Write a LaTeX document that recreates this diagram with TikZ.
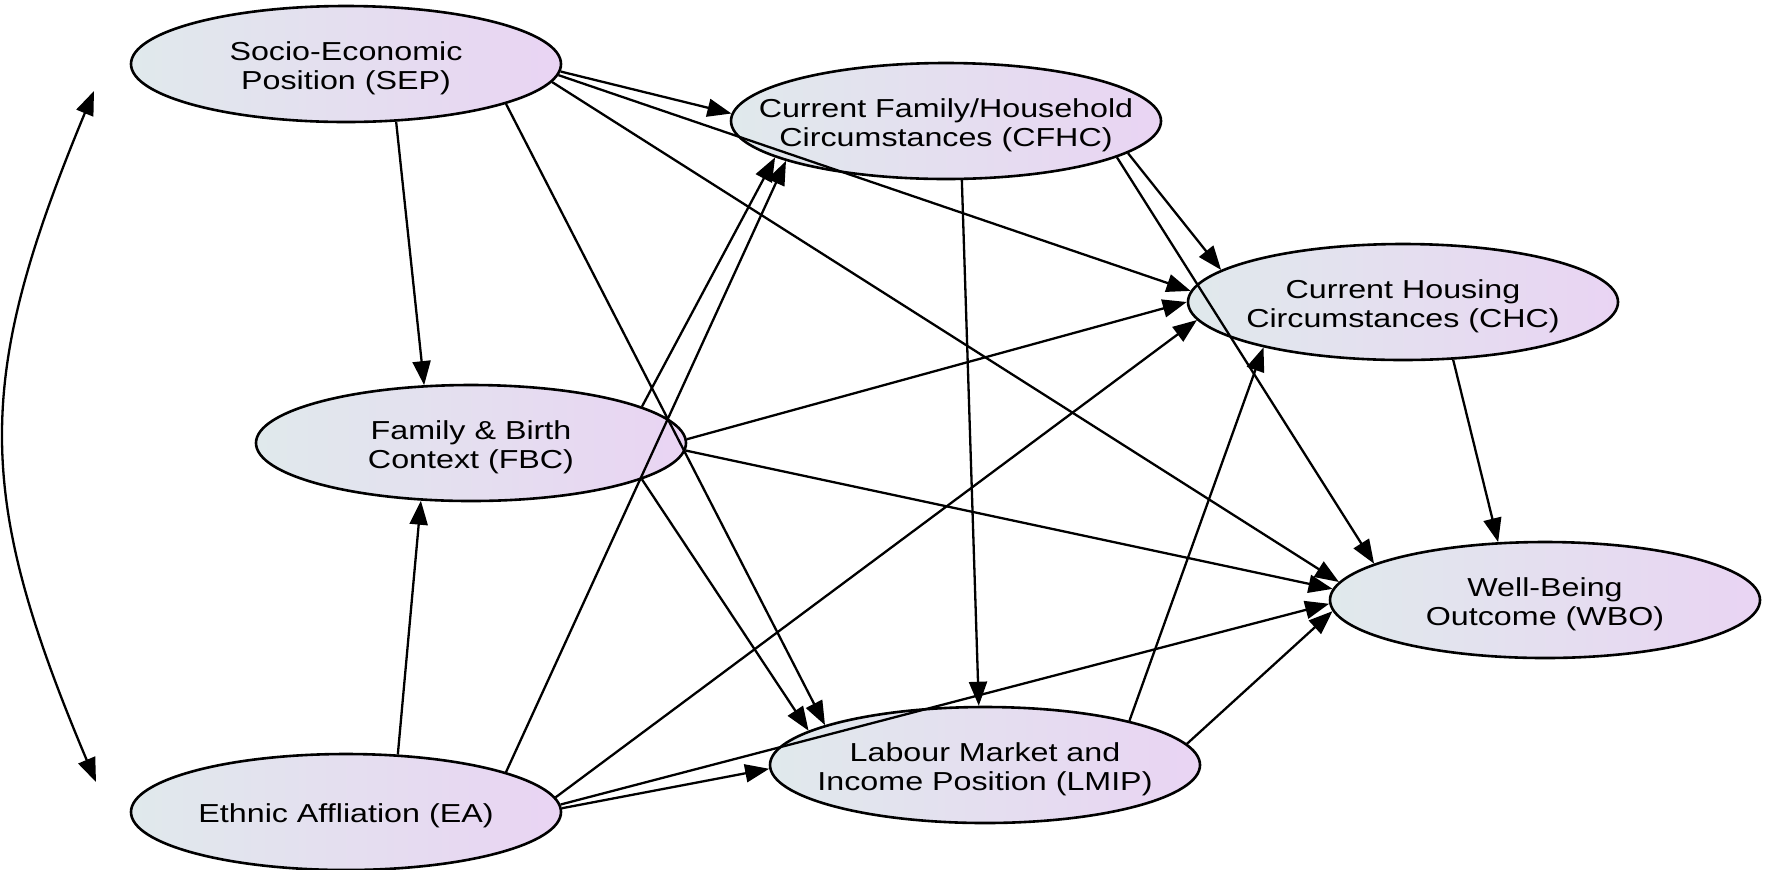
\documentclass[tikz,border=0pt]{standalone}
\usepackage{fontspec}
\setmainfont{Liberation Sans}
\usepackage{graphicx}
\usetikzlibrary{arrows.meta,shapes.geometric}
\definecolor{lblue}{RGB}{224,233,236}
\definecolor{lpurp}{RGB}{233,212,243}
\newcommand{\nodetext}[1]{\makebox[0pt][c]{\raisebox{-5.4pt}[0pt][0pt]{\scalebox{1.24}[1]{\begin{tabular}{@{}c@{}}#1\end{tabular}}}}}
\begin{document}
\begin{tikzpicture}[x=0.5pt,y=-0.5pt,
  var/.style={ellipse, draw=black, line width=1.3pt, minimum width=215pt, minimum height=58pt,
    inner sep=0pt, left color=lblue, right color=lpurp, font=\fontsize{13}{14.5}\selectfont, text=black},
  arr/.style={-{Triangle[length=12pt,width=9pt]}, line width=1.15pt},
  dblarr/.style={{Triangle[length=12pt,width=9pt]}-{Triangle[length=12pt,width=9pt]}, line width=1.15pt}]
\useasboundingbox (0,0) rectangle (1766,869);

\node[var] (SEP)  at (346,64)   {\nodetext{Socio-Economic\\Position (SEP)}};
\node[var] (CFHC) at (946,121)  {\nodetext{Current Family/Household\\Circumstances (CFHC)}};
\node[var] (FBC)  at (471,443)  {\nodetext{Family \& Birth\\Context (FBC)}};
\node[var] (CHC)  at (1403,302) {\nodetext{Current Housing\\Circumstances (CHC)}};
\node[var] (WBO)  at (1545,600) {\nodetext{Well-Being\\Outcome (WBO)}};
\node[var] (LMIP) at (985,765)  {\nodetext{Labour Market and\\Income Position (LMIP)}};
\node[var] (EA)   at (346,812)  {\nodetext{Ethnic Affliation (EA)}};

\coordinate (lt) at (94,91);
\coordinate (lb) at (96,782);
\draw[dblarr] (lt) .. controls (-26,380) and (-26,493) .. (lb);

\draw[arr] (SEP.358.4) -- (CFHC.178.4);
\draw[arr] (SEP.357.6) -- (CHC.177.3);
\draw[arr] (SEP.355.6) -- (WBO.175.3);
\draw[arr] (SEP.311.6) -- (FBC.129);
\draw[arr] (SEP.346.6) -- (LMIP.166.1);
\draw[arr] (FBC.12.5) -- (CFHC.192.7);
\draw[arr] (EA.14.3) -- (CFHC.194.5);
\draw[arr] (FBC.1.6) -- (CHC.180);
\draw[arr] (FBC.358.7) -- (WBO.177.8);
\draw[arr] (FBC.348.5) -- (LMIP.169.5);
\draw[arr] (EA.48.2) -- (FBC.229.8);
\draw[arr] (EA.4.7) -- (CHC.185);
\draw[arr] (EA.1.5) -- (LMIP.181);
\draw[arr] (EA.2) -- (WBO.181.6);
\draw[arr] (CFHC.285.2) -- (LMIP.96.9);
\draw[arr] (CFHC.350.3) -- (CHC.170.8);
\draw[arr] (CFHC.348.4) -- (WBO.168.8);
\draw[arr] (CHC.311.9) -- (WBO.129.6);
\draw[arr] (LMIP.17.5) -- (CHC.198.7);
\draw[arr] (LMIP.6.1) -- (WBO.183.4);
\end{tikzpicture}
\end{document}
